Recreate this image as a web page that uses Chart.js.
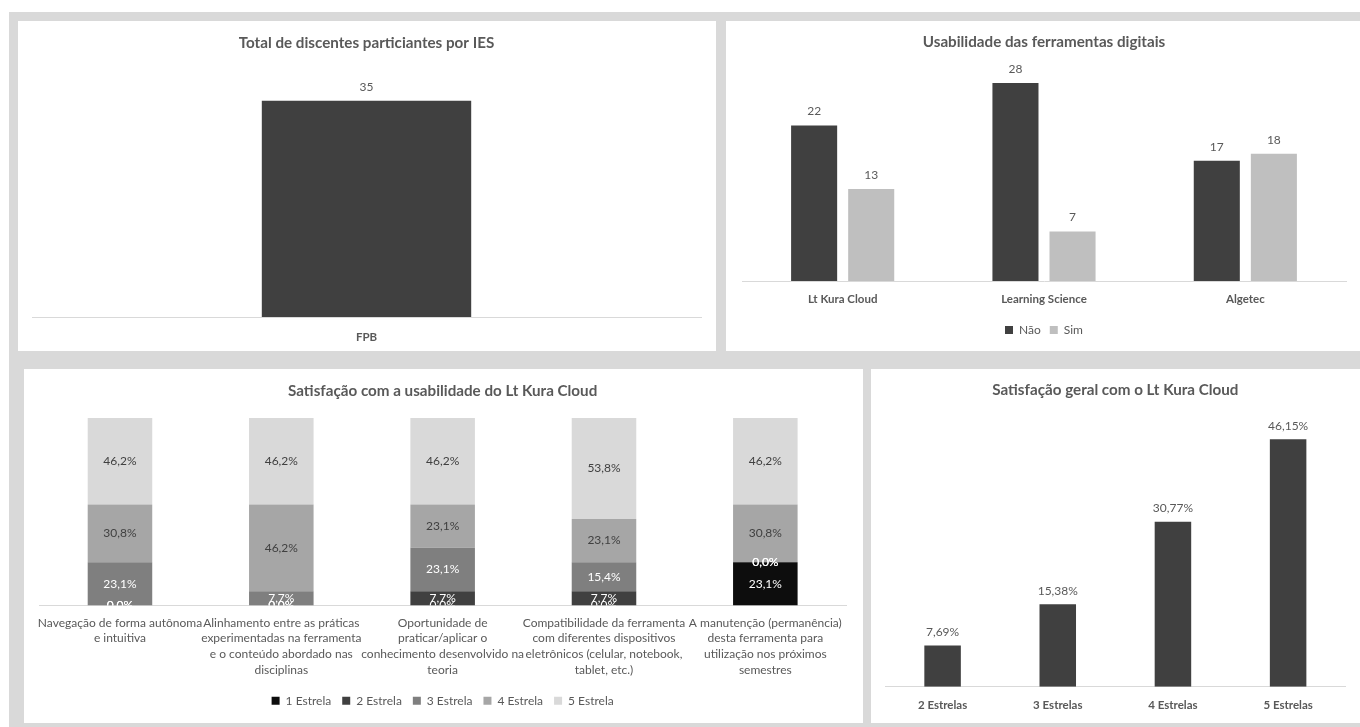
<!DOCTYPE html>
<html><head><meta charset="utf-8">
<script src="https://cdn.jsdelivr.net/npm/chart.js@4.4.1/dist/chart.umd.min.js"></script>
<style>
html,body{margin:0;padding:0;background:#fff;width:1360px;height:727px;overflow:hidden;}
#bg{position:absolute;left:9px;top:12px;width:1351px;height:715px;background:#d9d9d9;}
.panel{position:absolute;background:#fff;}
canvas{display:block;}
</style></head><body>
<div id="bg"></div>
<div class="panel" style="left:18px;top:21px;width:698px;height:330px"><canvas id="c1" width="698" height="330"></canvas></div>
<div class="panel" style="left:726px;top:21px;width:634px;height:330px"><canvas id="c2" width="634" height="330"></canvas></div>
<div class="panel" style="left:24px;top:369px;width:839px;height:354px"><canvas id="c3" width="839" height="354"></canvas></div>
<div class="panel" style="left:871px;top:369px;width:489px;height:354px"><canvas id="c4" width="489" height="354"></canvas></div>
<script>
// ---------- data ----------
const iesCategories = ['FPB'];
const iesTotals = [35];

const toolCategories = ['Lt Kura Cloud', 'Learning Science', 'Algetec'];
const toolNao = [22, 28, 17];
const toolSim = [13, 7, 18];

const satCategories = [
  ['Navegação de forma autônoma', 'e intuitiva'],
  ['Alinhamento entre as práticas', 'experimentadas na ferramenta', 'e o conteúdo abordado nas', 'disciplinas'],
  ['Oportunidade de', 'praticar/aplicar o', 'conhecimento desenvolvido na', 'teoria'],
  ['Compatibilidade da ferramenta', 'com diferentes dispositivos', 'eletrônicos (celular, notebook,', 'tablet, etc.)'],
  ['A manutenção (permanência)', 'desta ferramenta para', 'utilização nos próximos', 'semestres']
];
const satSeriesNames = ['1 Estrela', '2 Estrela', '3 Estrela', '4 Estrela', '5 Estrela'];
const star1 = [0, 0, 0, 0, 23.1];
const star2 = [0, 0, 7.7, 7.7, 0];
const star3 = [23.1, 7.7, 23.1, 15.4, 0];
const star4 = [30.8, 46.2, 23.1, 23.1, 30.8];
const star5 = [46.2, 46.2, 46.2, 53.8, 46.2];

const geralCategories = ['2 Estrelas', '3 Estrelas', '4 Estrelas', '5 Estrelas'];
const geralValues = [7.69, 15.38, 30.77, 46.15];

// ---------- styling ----------
const FONT = 'Lato';
const TXT = '#595959';
const AXIS = '#d9d9d9';
const TITLE_SIZE = 15.2;
Chart.defaults.font.family = FONT;
Chart.defaults.color = TXT;

function labelPlugin(cfg) {
  return {
    id: 'valueLabels',
    afterDatasetsDraw(chart) {
      const ctx = chart.ctx;
      const a = chart.chartArea;
      ctx.save();
      if (cfg.clip) { ctx.beginPath(); ctx.rect(a.left, a.top, a.right - a.left, a.bottom - a.top); ctx.clip(); }
      ctx.font = (cfg.weight || 'normal') + ' ' + cfg.size + 'px ' + FONT;
      ctx.textAlign = 'center';
      ctx.textBaseline = 'middle';
      chart.data.datasets.forEach((ds, di) => {
        const meta = chart.getDatasetMeta(di);
        meta.data.forEach((bar, i) => {
          const v = ds.data[i];
          ctx.fillStyle = ds.labelColor || TXT;
          const y = cfg.center ? (bar.y + bar.base) / 2 : bar.y - cfg.offset;
          ctx.fillText(cfg.format(v), bar.x, y);
        });
      });
      ctx.restore();
    }
  };
}

function titleOpts(text, centerY, plotTop) {
  const lh = TITLE_SIZE * 1.2;
  const top = centerY - lh / 2;
  return { display: true, text: text, color: TXT, font: { family: FONT, size: TITLE_SIZE, weight: 'bold', lineHeight: 1.2 }, padding: { top: top, bottom: plotTop - top - lh } };
}

// the axis ends up taller by the tick padding, so that amount is taken back in afterFit
function xAxis(pad, size, extra, lh, weight) {
  return {
    grid: { display: false, drawTicks: false, tickLength: 0 },
    border: { display: true, color: AXIS, width: 1 },
    ticks: { color: TXT, padding: pad, font: { family: FONT, size: size, lineHeight: lh || 1.2, weight: weight || 'normal' }, maxRotation: 0, minRotation: 0, autoSkip: false },
    afterFit: (s) => { s.height += extra - pad; }
  };
}

// ---------- chart 1 ----------
new Chart(document.getElementById('c1'), {
  type: 'bar',
  data: { labels: iesCategories, datasets: [{ label: 'Total', data: iesTotals, backgroundColor: '#404040', borderWidth: 0, categoryPercentage: 1, barPercentage: 0.313 }] },
  options: {
    responsive: false, animation: false, devicePixelRatio: 1,
    layout: { padding: { left: 14, right: 15, top: 0, bottom: 7.1 } },
    plugins: { legend: { display: false }, tooltip: { enabled: false }, title: titleOpts('Total de discentes particiantes por IES', 22, 48.8) },
    scales: { x: xAxis(13.1, 11.5, 0, 1.2, 'bold'), y: { display: false, min: 0, max: 40 } }
  },
  plugins: [labelPlugin({ size: 12, offset: 14, format: v => String(v) })]
});

// ---------- chart 2 ----------
new Chart(document.getElementById('c2'), {
  type: 'bar',
  data: {
    labels: toolCategories,
    datasets: [
      { label: 'Não', data: toolNao, backgroundColor: '#404040', borderWidth: 0, categoryPercentage: 0.567, barPercentage: 0.807 },
      { label: 'Sim', data: toolSim, backgroundColor: '#bfbfbf', borderWidth: 0, categoryPercentage: 0.567, barPercentage: 0.807 }
    ]
  },
  options: {
    responsive: false, animation: false, devicePixelRatio: 1,
    layout: { padding: { left: 16, right: 14, top: 0, bottom: 5 } },
    plugins: {
      legend: { display: true, position: 'bottom', labels: { color: TXT, boxWidth: 8, boxHeight: 8, padding: 9, font: { family: FONT, size: 12 } } },
      tooltip: { enabled: false },
      title: titleOpts('Usabilidade das ferramentas digitais', 21, 47.9)
    },
    scales: { x: xAxis(11.1, 11.5, 9.1, 1.2, 'bold'), y: { display: false, min: 0, max: 30 } }
  },
  plugins: [labelPlugin({ size: 12, offset: 14, format: v => String(v) })]
});

// ---------- chart 3 ----------
const starColors = ['#0d0d0d', '#404040', '#7f7f7f', '#a6a6a6', '#d9d9d9'];
const starLabelColors = ['#ffffff', '#ffffff', '#ffffff', '#404040', '#404040'];
const starSeries = [star1, star2, star3, star4, star5];
new Chart(document.getElementById('c3'), {
  type: 'bar',
  data: {
    labels: satCategories,
    datasets: starSeries.map((d, k) => ({
      label: satSeriesNames[k], data: d, backgroundColor: starColors[k], labelColor: starLabelColors[k],
      borderWidth: 0, categoryPercentage: 0.8, barPercentage: 0.5
    }))
  },
  options: {
    responsive: false, animation: false, devicePixelRatio: 1,
    layout: { padding: { left: 15.3, right: 17, top: 0, bottom: 6.3 } },
    plugins: {
      legend: { display: true, position: 'bottom', labels: { color: TXT, boxWidth: 8, boxHeight: 8, padding: 11, font: { family: FONT, size: 12 } } },
      tooltip: { enabled: false },
      title: titleOpts('Satisfação com a usabilidade do Lt Kura Cloud', 21.7, 49)
    },
    scales: { x: Object.assign(xAxis(9.6, 12, 6.1, 1.3), { stacked: true }), y: { display: false, stacked: true, min: 0, max: 100 } }
  },
  plugins: [labelPlugin({ size: 12, center: true, clip: true, format: v => v.toFixed(1).replace('.', ',') + '%' })]
});

// ---------- chart 4 ----------
new Chart(document.getElementById('c4'), {
  type: 'bar',
  data: { labels: geralCategories, datasets: [{ label: 'Satisfação', data: geralValues, backgroundColor: '#404040', borderWidth: 0, categoryPercentage: 1, barPercentage: 0.317 }] },
  options: {
    responsive: false, animation: false, devicePixelRatio: 1,
    layout: { padding: { left: 14, right: 14.3, top: 0, bottom: 11.1 } },
    plugins: { legend: { display: false }, tooltip: { enabled: false }, title: titleOpts('Satisfação geral com o Lt Kura Cloud', 21, 49.7) },
    scales: { x: xAxis(11.4, 11.5, 0, 1.2, 'bold'), y: { display: false, min: 0, max: 50 } }
  },
  plugins: [labelPlugin({ size: 12, offset: 13.5, format: v => v.toFixed(2).replace('.', ',') + '%' })]
});
</script>
</body></html>
